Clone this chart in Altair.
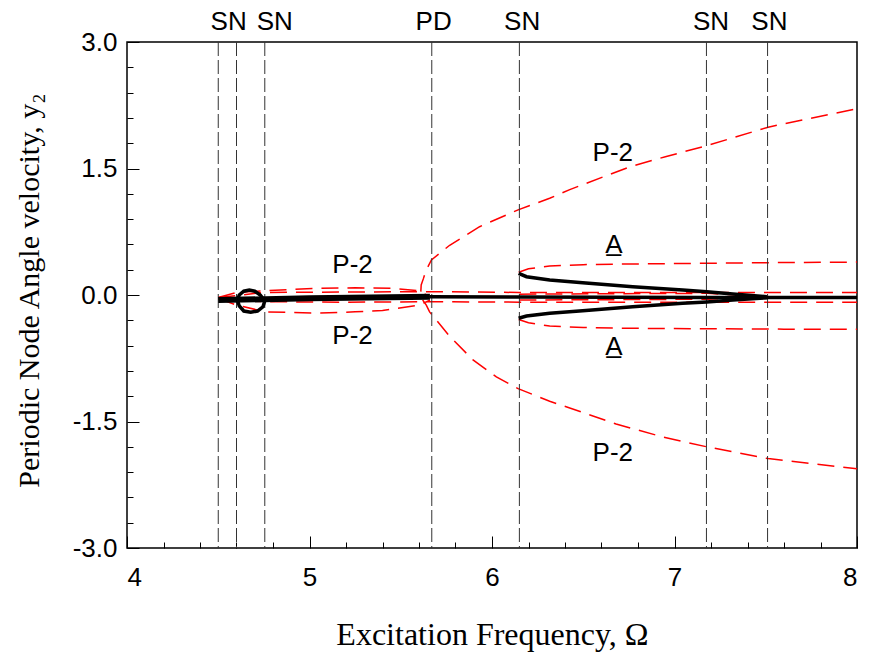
import altair as alt
import pandas as pd

# ---------------- data ----------------
# bifurcation (SN / PD) frequencies, vertical dashed lines
bif_x = [4.50, 4.60, 4.755, 5.67, 6.15, 7.175, 7.51]
top_labels = ["SN", "SN", "PD", "SN", "SN", "SN"]
top_label_x = [4.557, 4.81, 5.68, 6.165, 7.2, 7.52]

# curve labels inside the plot
curve_labels = ["P-2", "P-2", "P-2", "P-2", "A\u0332", "A\u0332"]
curve_label_x = [5.236, 5.236, 6.662, 6.662, 6.668, 6.668]
curve_label_y = [0.356, -0.486, 1.684, -1.874, 0.593, -0.617]

# stable (black, solid) branches
blk_thick_x = [4.50, 5.00, 5.66]
blk_thick_y = [-0.06, -0.04, -0.02]
blk_main_x = [5.66, 6.15, 7.18, 7.52, 8.00]
blk_main_y = [-0.02, -0.025, -0.03, -0.03, -0.03]
blk_up_x = [6.146, 6.189, 6.316, 6.497, 6.771, 7.045, 7.177, 7.32, 7.506]
blk_up_y = [0.257, 0.217, 0.178, 0.146, 0.098, 0.059, 0.039, 0.012, -0.02]
blk_dn_x = [6.146, 6.189, 6.316, 6.497, 6.771, 7.045, 7.177, 7.32, 7.506]
blk_dn_y = [-0.276, -0.249, -0.217, -0.186, -0.139, -0.099, -0.083, -0.059, -0.032]
blk_loop_x = [4.605, 4.615, 4.64, 4.67, 4.70, 4.73, 4.755, 4.745, 4.715, 4.678, 4.64, 4.615, 4.605]
blk_loop_y = [-0.06, 0.0, 0.045, 0.06, 0.045, 0.0, -0.07, -0.14, -0.19, -0.205, -0.19, -0.13, -0.06]

# unstable (red, dashed) branches
red_outer_up_x = [5.61, 5.612, 5.625, 5.636, 5.668, 5.768, 5.932, 6.143, 6.316, 6.426, 6.755, 6.95, 7.176, 7.513, 8.0]
red_outer_up_y = [0.04, 0.12, 0.20, 0.28, 0.415, 0.59, 0.81, 1.01, 1.147, 1.25, 1.52, 1.64, 1.77, 1.99, 2.21]
red_outer_dn_x = [5.62, 5.64, 5.658, 5.768, 5.896, 6.024, 6.143, 6.316, 6.426, 6.68, 6.93, 7.176, 7.513, 8.0]
red_outer_dn_y = [-0.06, -0.12, -0.20, -0.49, -0.77, -0.97, -1.11, -1.26, -1.34, -1.53, -1.68, -1.80, -1.94, -2.06]
red_inner_up_x = [4.50, 4.60, 4.76, 5.04, 5.25, 5.45, 5.60, 5.66]
red_inner_up_y = [-0.03, 0.03, 0.05, 0.08, 0.085, 0.08, 0.05, -0.02]
red_inner_dn_x = [4.50, 4.60, 4.76, 5.04, 5.25, 5.40, 5.60, 5.66]
red_inner_dn_y = [-0.04, -0.12, -0.20, -0.215, -0.20, -0.185, -0.12, -0.06]
red_near_up_x = [4.50, 4.75, 5.20, 5.66, 6.15, 7.18, 7.52, 8.0]
red_near_up_y = [-0.03, 0.03, 0.035, 0.04, 0.03, 0.03, 0.03, 0.03]
red_near_dn_x = [4.50, 4.75, 5.20, 5.66, 6.15, 7.18, 7.52, 8.0]
red_near_dn_y = [-0.05, -0.08, -0.085, -0.08, -0.085, -0.087, -0.087, -0.087]
red_wedge_up_x = [6.15, 7.18, 7.52]
red_wedge_up_y = [0.01, 0.02, -0.02]
red_wedge_dn_x = [6.15, 7.18, 7.52]
red_wedge_dn_y = [-0.06, -0.05, -0.02]
red_A_up_x = [6.146, 6.20, 6.316, 6.50, 6.77, 7.176, 7.60, 8.0]
red_A_up_y = [0.27, 0.31, 0.344, 0.36, 0.368, 0.376, 0.385, 0.39]
red_A_dn_x = [6.146, 6.20, 6.316, 6.50, 6.77, 7.176, 7.60, 8.0]
red_A_dn_y = [-0.29, -0.33, -0.368, -0.385, -0.395, -0.40, -0.405, -0.407]

# axis ticks
x_major = [4, 5, 6, 7, 8]
x_minor = [4.2, 4.4, 4.6, 4.8, 5.2, 5.4, 5.6, 5.8, 6.2, 6.4, 6.6, 6.8, 7.2, 7.4, 7.6, 7.8]
y_major = [-3.0, -1.5, 0.0, 1.5, 3.0]
y_minor = [-2.7, -2.4, -2.1, -1.8, -1.2, -0.9, -0.6, -0.3, 0.3, 0.6, 0.9, 1.2, 1.8, 2.1, 2.4, 2.7]


def curves(spec):
    rows = []
    for name, xs_, ys_ in spec:
        for i, (a, b) in enumerate(zip(xs_, ys_)):
            rows.append({"curve": name, "order": i, "x": a, "y": b})
    return pd.DataFrame(rows)


red_df = curves([
    ("outer_up", red_outer_up_x, red_outer_up_y),
    ("outer_dn", red_outer_dn_x, red_outer_dn_y),
    ("inner_up", red_inner_up_x, red_inner_up_y),
    ("inner_dn", red_inner_dn_x, red_inner_dn_y),
    ("near_up", red_near_up_x, red_near_up_y),
    ("near_dn", red_near_dn_x, red_near_dn_y),
    ("wedge_up", red_wedge_up_x, red_wedge_up_y),
    ("wedge_dn", red_wedge_dn_x, red_wedge_dn_y),
    ("A_up", red_A_up_x, red_A_up_y),
    ("A_dn", red_A_dn_x, red_A_dn_y),
])
blk_thin_df = curves([
    ("main", blk_main_x, blk_main_y),
    ("up", blk_up_x, blk_up_y),
    ("dn", blk_dn_x, blk_dn_y),
    ("loop", blk_loop_x, blk_loop_y),
])
blk_thick_df = curves([("thick", blk_thick_x, blk_thick_y)])
bif_df = pd.DataFrame({"x": bif_x})
top_df = pd.DataFrame({"x": top_label_x, "label": top_labels})
lab_df = pd.DataFrame({"x": curve_label_x, "y": curve_label_y, "label": curve_labels})

W, H = 730, 506
xs = alt.Scale(domain=[4, 8], nice=False, zero=False)
ys = alt.Scale(domain=[-3, 3], nice=False, zero=False)
SANS = "Liberation Sans"
SERIF = "Liberation Serif"
TXT = 26

main_x_axis = alt.Axis(
    values=x_major, format="d", ticks=False, domain=False, grid=False,
    labelFont=SANS, labelFontSize=TXT, labelColor="black", labelPadding=16,
    title="Excitation Frequency, Ω", titleFont=SERIF, titleFontSize=32,
    titleFontWeight="normal", titleColor="black", titleX=W / 2, titleY=86,
    titleBaseline="middle",
)
main_y_axis = alt.Axis(
    values=y_major, format=".1f", labelExpr="replace(datum.label, '\u2212', '-')",
    ticks=False, domain=False, grid=False,
    labelFont=SANS, labelFontSize=TXT, labelColor="black", labelPadding=10,
    title="Periodic Node Angle velocity, y\u2082", titleFont=SERIF, titleFontSize=30,
    titleFontWeight="normal", titleColor="black", titleX=-98, titleY=H / 2 - 5,
    titleAngle=-90, titleBaseline="middle",
)


def tick_axes(xv, yv, size):
    ax = alt.Axis(orient="top", offset=-H, values=xv, tickSize=size, tickColor="black",
                  tickWidth=1, labels=False, domain=False, grid=False, title=None)
    ay = alt.Axis(orient="right", offset=-W, values=yv, tickSize=size, tickColor="black",
                  tickWidth=1, labels=False, domain=False, grid=False, title=None)
    return ax, ay


red = alt.Chart(red_df).mark_line(color="#ff0000", strokeWidth=1.5, strokeDash=[17, 9]).encode(
    x=alt.X("x:Q", scale=xs, axis=main_x_axis),
    y=alt.Y("y:Q", scale=ys, axis=main_y_axis),
    detail="curve:N", order="order:Q",
)
blk_thin = alt.Chart(blk_thin_df).mark_line(color="black", strokeWidth=3.5).encode(
    x=alt.X("x:Q", scale=xs, axis=None),
    y=alt.Y("y:Q", scale=ys, axis=None),
    detail="curve:N", order="order:Q",
)
blk_thick = alt.Chart(blk_thick_df).mark_line(color="black", strokeWidth=6).encode(
    x=alt.X("x:Q", scale=xs, axis=None),
    y=alt.Y("y:Q", scale=ys, axis=None),
    order="order:Q",
)
bif = alt.Chart(bif_df).mark_rule(color="#333333", strokeWidth=1, strokeDash=[14, 4]).encode(
    x=alt.X("x:Q", scale=xs, axis=None),
)
top_text = alt.Chart(top_df).mark_text(font=SANS, fontSize=TXT, color="black", baseline="middle").encode(
    x=alt.X("x:Q", scale=xs, axis=None),
    y=alt.value(-20),
    text="label:N",
)
lab_text = alt.Chart(lab_df).mark_text(font=SANS, fontSize=TXT, color="black", baseline="middle").encode(
    x=alt.X("x:Q", scale=xs, axis=None),
    y=alt.Y("y:Q", scale=ys, axis=None),
    text="label:N",
)
ax_min, ay_min = tick_axes(x_minor, y_minor, 6)
ax_maj, ay_maj = tick_axes(x_major, y_major, 12)
ticks_minor = alt.Chart(blk_thick_df).mark_point(opacity=0).encode(
    x=alt.X("x:Q", scale=xs, axis=ax_min),
    y=alt.Y("y:Q", scale=ys, axis=ay_min),
)
ticks_major = alt.Chart(blk_thick_df).mark_point(opacity=0).encode(
    x=alt.X("x:Q", scale=xs, axis=ax_maj),
    y=alt.Y("y:Q", scale=ys, axis=ay_maj),
)

chart = alt.layer(
    red, bif, blk_thick, blk_thin, top_text, lab_text, ticks_minor, ticks_major
).resolve_axis(
    x="independent", y="independent"
).properties(
    width=W, height=H,
    autosize=alt.AutoSizeParams(type="none"),
    padding={"left": 127, "top": 42, "right": 13, "bottom": 112},
    background="white",
).configure_view(
    stroke="black", strokeWidth=1.5
)

chart.save("out.html", embed_options={"renderer": "svg", "actions": False})
